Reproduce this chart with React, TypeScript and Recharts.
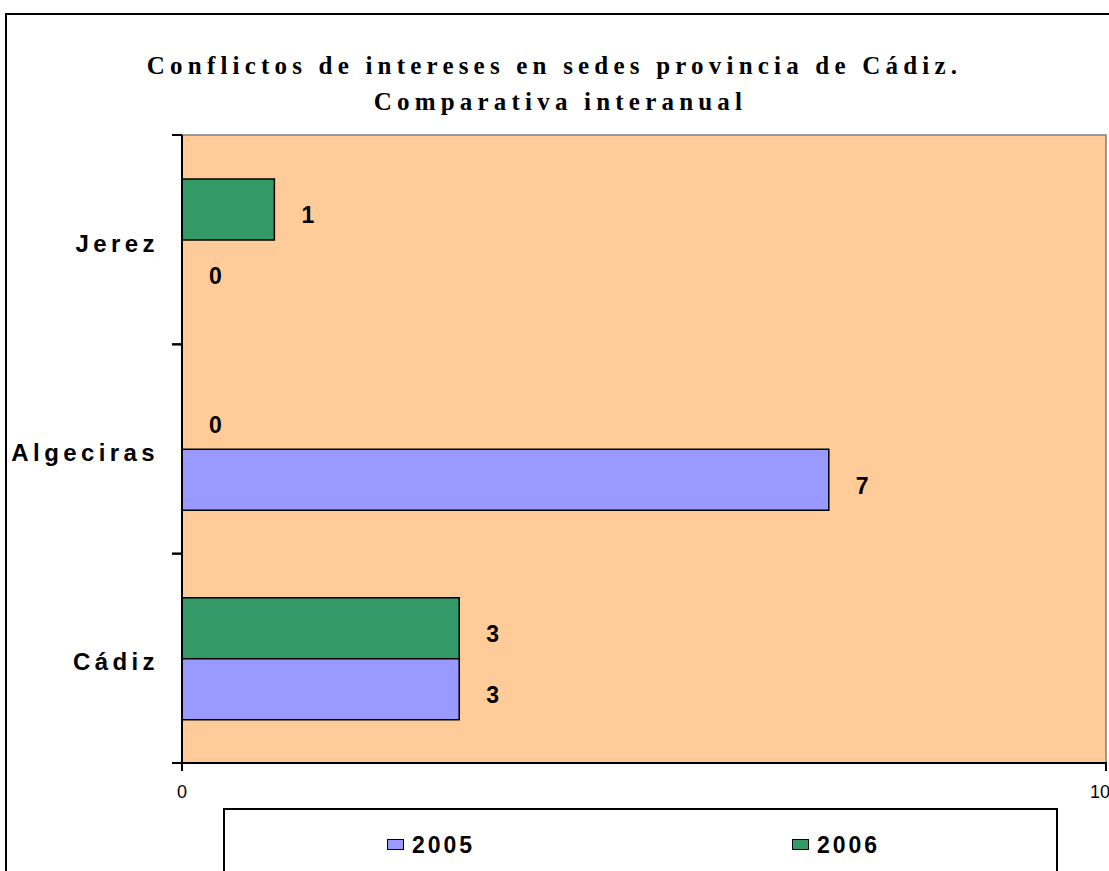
import React from 'react';
import {
  BarChart,
  Bar,
  XAxis,
  YAxis,
  ReferenceArea,
  LabelList,
} from 'recharts';

// sedes, from top to bottom as drawn
const sedes = ['Jerez', 'Algeciras', 'Cádiz'];
const values2005 = [0, 7, 3];
const values2006 = [1, 0, 3];
const xTicks = [0, 10];

const chartData = sedes.map((sede, i) => ({
  sede,
  y2005: values2005[i],
  y2006: values2006[i],
}));

const W = 1109;
const H = 871;
const MARGIN = { top: 135, right: 3, bottom: 78, left: 0 };
const X_AXIS_H = 30;
const PLOT_H = H - MARGIN.top - MARGIN.bottom - X_AXIS_H;
const BAND = PLOT_H / sedes.length;
const Y_TICK_SIZE = 10;
const Y_TICK_MARGIN = 13;

const COLOR_2005 = '#9999FF';
const COLOR_2006 = '#339966';
const PLOT_BG = '#FFCC99';

const ARIAL = 'Arial, "Liberation Sans", Helvetica, sans-serif';
const TIMES = '"Times New Roman", "Liberation Serif", serif';

// zero values still need a rect so that the "0" label gets drawn
const keepZero = (value: any) => (value === 0 ? 0.01 : 0);

// category label plus tick marks at the band edges (Excel style)
const SedeTick = (props: any) => {
  const { x, y, payload } = props;
  const axisX = x + Y_TICK_SIZE + Y_TICK_MARGIN;
  return (
    <g>
      <line x1={axisX - Y_TICK_SIZE} x2={axisX} y1={y - BAND / 2} y2={y - BAND / 2} stroke="#000" strokeWidth={2} />
      <line x1={axisX - Y_TICK_SIZE} x2={axisX} y1={y + BAND / 2} y2={y + BAND / 2} stroke="#000" strokeWidth={2} />
      <text
        x={x}
        y={y + 12}
        textAnchor="end"
        fill="#000"
        fontFamily={ARIAL}
        fontWeight={700}
        fontSize={24}
        letterSpacing={4.4}
      >
        {payload.value}
      </text>
    </g>
  );
};

// value label to the right of the bar end, also for zero values
const ValueLabel = (props: any) => {
  const { x, y, width, height, value } = props;
  if (value === undefined || value === null) return null;
  return (
    <text
      x={Number(x) + Number(width) + 27}
      y={Number(y) + Number(height) / 2 + 14}
      fill="#000"
      fontFamily={ARIAL}
      fontWeight={700}
      fontSize={23}
    >
      {value}
    </text>
  );
};

const LegendItem = ({ color, label }: { color: string; label: string }) => (
  <div style={{ display: 'flex', alignItems: 'flex-start' }}>
    <div
      style={{
        width: 15,
        height: 9,
        background: color,
        border: '1.5px solid #000',
        marginRight: 8,
        marginTop: 2,
      }}
    />
    <span
      style={{
        fontFamily: ARIAL,
        fontWeight: 700,
        fontSize: 23,
        letterSpacing: 3,
        lineHeight: '17px',
        display: 'block',
      }}
    >
      {label}
    </span>
  </div>
);

const App: React.FC = () => {
  return (
    <div
      style={{
        position: 'absolute',
        left: 0,
        top: 0,
        width: W,
        height: H,
        overflow: 'hidden',
        background: '#fff',
      }}
    >
      {/* outer chart frame */}
      <div
        style={{
          position: 'absolute',
          left: 5,
          top: 13,
          width: 1200,
          height: 1000,
          border: '2px solid #000',
        }}
      />
      <div
        style={{
          position: 'absolute',
          left: 0,
          width: 1109,
          top: 48,
          textAlign: 'center',
          fontFamily: TIMES,
          fontWeight: 700,
          fontSize: 25,
          letterSpacing: 5.2,
          lineHeight: '36px',
          color: '#000',
        }}
      >
        <div>Conflictos de intereses en sedes provincia de Cádiz.</div>
        <div style={{ paddingLeft: 12 }}>Comparativa interanual</div>
      </div>
      <div style={{ position: 'absolute', left: 0, top: 0 }}>
        <BarChart
          width={W}
          height={H}
          data={chartData}
          layout="vertical"
          margin={MARGIN}
          barCategoryGap="21%"
          barGap={0}
        >
          <XAxis
            type="number"
            domain={[0, 10]}
            ticks={xTicks}
            height={X_AXIS_H}
            tickSize={8}
            tickMargin={14}
            axisLine={false}
            tickLine={{ stroke: '#000', strokeWidth: 2 }}
            tick={{ fill: '#000', fontFamily: ARIAL, fontSize: 18 }}
          />
          <YAxis
            type="category"
            dataKey="sede"
            width={182}
            tickSize={Y_TICK_SIZE}
            tickMargin={Y_TICK_MARGIN}
            axisLine={false}
            tickLine={false}
            tick={<SedeTick />}
            interval={0}
          />
          <ReferenceArea
            x1={0}
            x2={10}
            fill={PLOT_BG}
            fillOpacity={1}
            stroke="#808080"
            strokeWidth={1.5}
          />
          <Bar
            dataKey="y2006"
            name="2006"
            fill={COLOR_2006}
            stroke="#000"
            strokeWidth={1.5}
            minPointSize={keepZero}
            isAnimationActive={false}
          >
            <LabelList dataKey="y2006" content={<ValueLabel />} />
          </Bar>
          <Bar
            dataKey="y2005"
            name="2005"
            fill={COLOR_2005}
            stroke="#000"
            strokeWidth={1.5}
            minPointSize={keepZero}
            isAnimationActive={false}
          >
            <LabelList dataKey="y2005" content={<ValueLabel />} />
          </Bar>
        </BarChart>
      </div>
      {/* axis lines drawn over the plot area */}
      <div style={{ position: 'absolute', left: 181, top: 135, width: 2, height: 629, background: '#000' }} />
      <div style={{ position: 'absolute', left: 181, top: 762, width: 926, height: 2, background: '#000' }} />
      {/* legend box */}
      <div
        style={{
          position: 'absolute',
          left: 223,
          top: 808,
          width: 831,
          height: 200,
          border: '2px solid #000',
          background: '#fff',
        }}
      >
        <div style={{ position: 'absolute', left: 162, top: 27 }}>
          <LegendItem color={COLOR_2005} label="2005" />
        </div>
        <div style={{ position: 'absolute', left: 567, top: 27 }}>
          <LegendItem color={COLOR_2006} label="2006" />
        </div>
      </div>
    </div>
  );
};

export default App;
